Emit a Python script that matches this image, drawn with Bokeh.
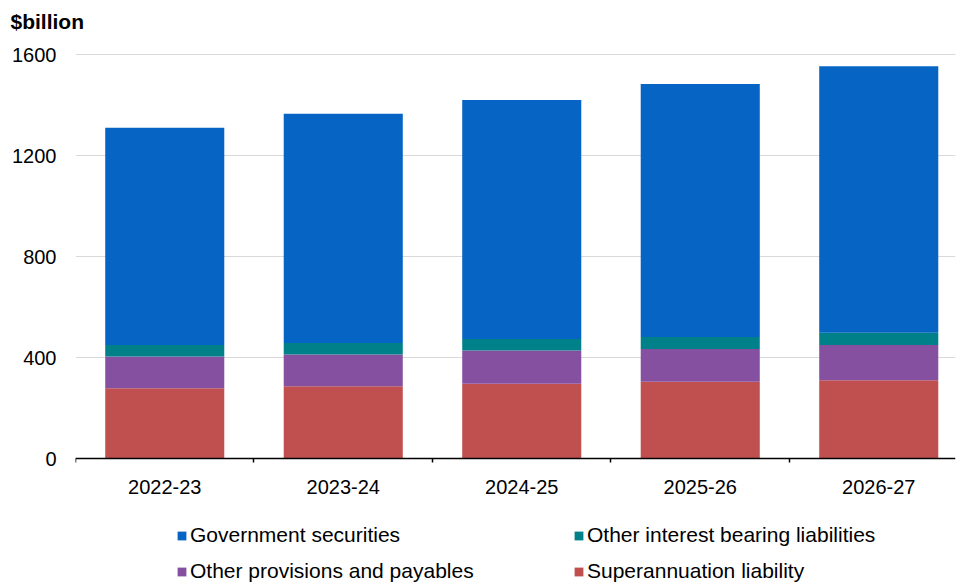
from bokeh.plotting import figure
from bokeh.models import (ColumnDataSource, Range1d, FixedTicker, Legend, LegendItem, Title)
from bokeh.embed import file_html
from bokeh.resources import INLINE

years = ["2022-23", "2023-24", "2024-25", "2025-26", "2026-27"]
superannuation = [278, 286, 296, 304, 310]
other_provisions = [126, 126, 132, 130, 140]
other_interest = [46, 46, 46, 48, 48]
gov_securities = [861, 908, 947, 1002, 1057]

series_names = ["Superannuation liability", "Other provisions and payables",
                "Other interest bearing liabilities", "Government securities"]
colors = ["#C0504F", "#8650A0", "#008089", "#0564C4"]

xpos = [i + 0.5 for i in range(len(years))]
source = ColumnDataSource(dict(
    x=xpos,
    sup=superannuation,
    prov=other_provisions,
    oib=other_interest,
    gov=gov_securities,
))

FONT = "Liberation Sans"

p = figure(width=956, height=583, output_backend="svg", toolbar_location=None,
           x_range=Range1d(0, 4.93), y_range=Range1d(-495.4, 1656.7),
           min_border_left=75, min_border_right=1, min_border_top=40,
           min_border_bottom=0)
p.outline_line_color = None
p.background_fill_color = "white"

renderers = p.vbar_stack(["sup", "prov", "oib", "gov"], x="x", width=0.667,
                         color=colors, line_color=None, source=source)

# Title
p.title = Title(text="$billion", align="left", offset=-65, text_font=FONT,
                text_font_size="21px", text_font_style="bold", text_color="#000000",
                vertical_align="top", standoff=12)

# Y axis
p.yaxis.ticker = FixedTicker(ticks=[0, 400, 800, 1200, 1600])
p.yaxis.axis_line_color = None
p.yaxis.major_tick_line_color = None
p.yaxis.major_tick_out = 0
p.yaxis.major_tick_in = 0
p.yaxis.minor_tick_line_color = None
p.yaxis.major_label_text_font = FONT
p.yaxis.major_label_text_font_size = "20px"
p.yaxis.major_label_text_color = "#000000"
p.yaxis.major_label_standoff = 19
p.ygrid.grid_line_color = "#D9D9D9"
p.ygrid.grid_line_width = 1
p.ygrid.ticker = FixedTicker(ticks=[400, 800, 1200, 1600])
p.xgrid.grid_line_color = None

# X axis, drawn at y = 0
p.xaxis.fixed_location = 0
p.xaxis.ticker = FixedTicker(ticks=xpos, minor_ticks=[0, 1, 2, 3, 4, 5])
p.xaxis.major_label_overrides = {x: y for x, y in zip(xpos, years)}
p.xaxis.axis_line_color = "#000000"
p.xaxis.axis_line_width = 1.5
p.xaxis.major_tick_line_color = None
p.xaxis.major_tick_out = 0
p.xaxis.major_tick_in = 0
p.xaxis.minor_tick_line_color = "#000000"
p.xaxis.minor_tick_line_width = 1.5
p.xaxis.minor_tick_out = 4
p.xaxis.minor_tick_in = 0
p.xaxis.major_label_text_font = FONT
p.xaxis.major_label_text_font_size = "20px"
p.xaxis.major_label_text_color = "#000000"
p.xaxis.major_label_standoff = 17

# Legend
items = [
    LegendItem(label=series_names[3], renderers=[renderers[3]]),
    LegendItem(label=series_names[2], renderers=[renderers[2]]),
    LegendItem(label=series_names[1], renderers=[renderers[1]]),
    LegendItem(label=series_names[0], renderers=[renderers[0]]),
]
legend = Legend(items=items, location=(101, 0), orientation="horizontal", ncols=2,
                glyph_width=11, glyph_height=11, label_standoff=3, label_height=24,
                label_width=371, spacing=12, padding=0, margin=0,
                border_line_color=None, background_fill_alpha=0,
                label_text_font=FONT, label_text_font_size="21px",
                label_text_color="#000000")
p.add_layout(legend, "center")

open("out.html", "w").write(file_html(p, INLINE))
